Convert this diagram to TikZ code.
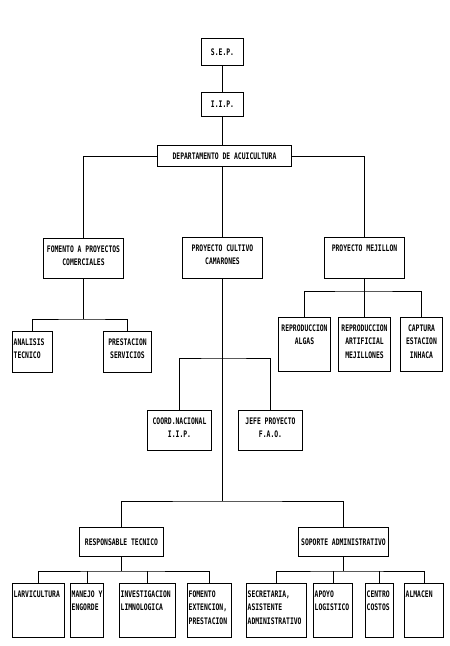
\documentclass[tikz,border=0pt]{standalone}
\usepackage{fontspec}
\usepackage{tikz}
\newfontfamily\chartfont[FakeStretch=0.71]{DejaVu Sans Mono}

\begin{document}
\begin{tikzpicture}[x=1pt, y=-1pt,
  unit/.style={draw=black, line width=1pt, rectangle, inner sep=0pt, anchor=north west, font=\chartfont\bfseries\fontsize{9}{13.5}\selectfont},
  tag/.style={anchor=north, align=center, inner sep=0pt, yshift=-7.5pt, font=\chartfont\bfseries\fontsize{9}{13.5}\selectfont},
  ltag/.style={tag, anchor=north west, align=left, xshift=1.5pt},
  link/.style={black, line width=1pt}]

\useasboundingbox (0,0) rectangle (450,646);

\node[unit, minimum width=42pt, minimum height=27pt] (sep) at (201,38) {S.E.P.};
\node[unit, minimum width=42pt, minimum height=24pt] (iip) at (201,92) {I.I.P.};
\node[unit, minimum width=134pt, minimum height=21pt] (depto) at (157,145) {DEPARTAMENTO DE ACUICULTURA};

\node[unit, minimum width=80pt, minimum height=40pt, label={[tag]north:{FOMENTO A PROYECTOS\\COMERCIALES}}] (fomento) at (43,238) {};
\node[unit, minimum width=80pt, minimum height=41pt, label={[tag]north:{PROYECTO CULTIVO\\CAMARONES}}] (cultivo) at (182,237) {};
\node[unit, minimum width=80pt, minimum height=41pt, label={[tag]north:{PROYECTO MEJILLON}}] (mejillon) at (324,237) {};

\node[unit, minimum width=40pt, minimum height=41pt, label={[ltag]north west:{ANALISIS\\TECNICO}}] (analisis) at (12,331) {};
\node[unit, minimum width=48pt, minimum height=41pt, label={[tag]north:{PRESTACION\\SERVICIOS}}] (prestacion) at (103,331) {};

\node[unit, minimum width=52pt, minimum height=54pt, label={[tag]north:{REPRODUCCION\\ALGAS}}] (algas) at (278,317) {};
\node[unit, minimum width=52pt, minimum height=54pt, label={[tag]north:{REPRODUCCION\\ARTIFICIAL\\MEJILLONES}}] (artificial) at (338,317) {};
\node[unit, minimum width=42pt, minimum height=54pt, label={[tag]north:{CAPTURA\\ESTACION\\INHACA}}] (captura) at (400,317) {};

\node[unit, minimum width=64pt, minimum height=40pt, label={[tag]north:{COORD.NACIONAL\\I.I.P.}}] (coord) at (147,410) {};
\node[unit, minimum width=64pt, minimum height=40pt, label={[tag]north:{JEFE PROYECTO\\F.A.O.}}] (jefe) at (238,410) {};

\node[unit, minimum width=84pt, minimum height=29pt] (responsable) at (79,527) {RESPONSABLE TECNICO};
\node[unit, minimum width=90pt, minimum height=29pt] (soporte) at (298,527) {SOPORTE ADMINISTRATIVO};

\node[unit, minimum width=52pt, minimum height=54pt, label={[ltag]north west:{LARVICULTURA}}] (larv) at (12,583) {};
\node[unit, minimum width=33pt, minimum height=54pt, label={[ltag]north west:{MANEJO Y\\ENGORDE}}] (manejo) at (70,583) {};
\node[unit, minimum width=56pt, minimum height=54pt, label={[ltag]north west:{INVESTIGACION\\LIMNOLOGICA}}] (invest) at (119,583) {};
\node[unit, minimum width=44pt, minimum height=54pt, label={[ltag]north west:{FOMENTO\\EXTENCION,\\PRESTACION}}] (fomext) at (187,583) {};
\node[unit, minimum width=60pt, minimum height=54pt, label={[ltag]north west:{SECRETARIA,\\ASISTENTE\\ADMINISTRATIVO}}] (secret) at (246,583) {};
\node[unit, minimum width=39pt, minimum height=54pt, label={[ltag]north west:{APOYO\\LOGISTICO}}] (apoyo) at (313,583) {};
\node[unit, minimum width=28pt, minimum height=54pt, label={[ltag]north west:{CENTRO\\COSTOS}}] (centro) at (365,583) {};
\node[unit, minimum width=39pt, minimum height=54pt, label={[ltag]north west:{ALMACEN}}] (almacen) at (404,583) {};

\draw[link] (sep) -- (iip);
\draw[link] (iip) -- (iip |- depto.north);
\draw[link] (depto.west) -| (fomento);
\draw[link] (depto.east) -| (mejillon);
\draw[link] (iip |- depto.south) -- (cultivo);

\draw[link] (fomento.south) -- ++(0,40) coordinate (fomjoint);
\draw[link] (analisis) |- (fomjoint) -| (prestacion);

\draw[link] (mejillon.south) -- ++(0,12) coordinate (mejjoint);
\draw[link] (algas) |- (mejjoint) -| (captura);
\draw[link] (mejjoint) -- (artificial);

\draw[link] (cultivo.south) -- ++(0,79) coordinate (cultjoint);
\draw[link] (coord) |- (cultjoint) -| (jefe);
\draw[link] (cultjoint) -- ++(0,143) coordinate (lowjoint);
\draw[link] (responsable) |- (lowjoint) -| (soporte);

\draw[link] (responsable.south) -- ++(0,14) coordinate (techjoint);
\draw[link] (larv) |- (techjoint) -| (fomext);
\draw[link] (manejo) -- (manejo |- techjoint);
\draw[link] (invest) -- (invest |- techjoint);

\draw[link] (soporte.south) -- ++(0,14) coordinate (adminjoint);
\draw[link] (secret) |- (adminjoint) -| (almacen);
\draw[link] (apoyo) -- (apoyo |- adminjoint);
\draw[link] (centro) -- (centro |- adminjoint);

\end{tikzpicture}
\end{document}
